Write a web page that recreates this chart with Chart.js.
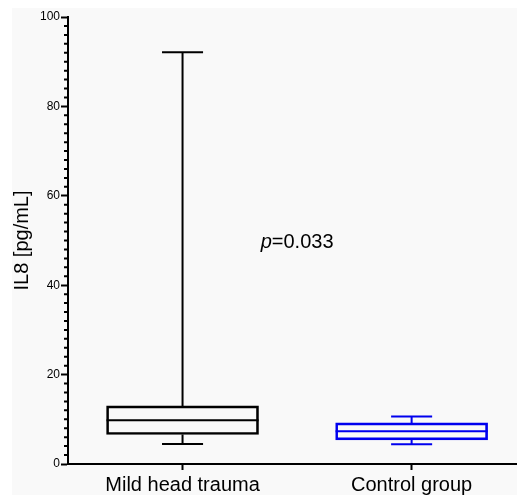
<!DOCTYPE html>
<html>
<head>
<meta charset="utf-8">
<script src="https://cdn.jsdelivr.net/npm/chart.js@4.4.1/dist/chart.umd.min.js"></script>
<style>
  html, body { margin: 0; padding: 0; background: #fff; overflow: hidden; }
  #wrap { position: relative; width: 517px; height: 495px; }
</style>
</head>
<body>
<div id="wrap"><canvas id="boxChart"></canvas></div>
<script>
// Box plot values
const categories = ['Mild head trauma', 'Control group'];
const groupX = [1, 2];
const mins = [4.5, 4.4];
const q1s = [6.6, 5.4];
const medians = [9.8, 7.3];
const q3s = [13.0, 9.2];
const maxs = [92.1, 10.6];
const colors = ['#000000', '#0000ee'];
const yTicks = [0, 20, 40, 60, 80, 100];
const pText = { x: 1.5, y: 49.5, label: '0.033' };

Chart.defaults.font.family = '"Liberation Sans", Arial, sans-serif';
Chart.defaults.color = '#000';

// light grey panel behind the plot
const panelBg = {
    id: 'panelBg',
    beforeDraw(chart) {
        const c = chart.ctx;
        c.save();
        c.fillStyle = '#ffffff';
        c.fillRect(0, 0, chart.width, chart.height);
        c.fillStyle = '#f9f9f9';
        c.fillRect(12, 8, chart.width - 12, chart.height - 8);
        c.restore();
    }
};

// whiskers, caps, medians, minor ticks and the p-value
const boxExtras = {
    id: 'boxExtras',
    afterDatasetsDraw(chart) {
        const c = chart.ctx;
        const x = chart.scales.x, y = chart.scales.y;
        const meta = chart.getDatasetMeta(0);
        c.save();
        c.lineWidth = 2;
        meta.data.forEach((bar, i) => {
            const cx = bar.x, half = bar.width / 2, cap = bar.width * 0.135;
            c.strokeStyle = colors[i];
            c.beginPath();
            // median
            c.moveTo(cx - half, y.getPixelForValue(medians[i]));
            c.lineTo(cx + half, y.getPixelForValue(medians[i]));
            // upper whisker + cap
            c.moveTo(cx, y.getPixelForValue(q3s[i]));
            c.lineTo(cx, y.getPixelForValue(maxs[i]));
            c.moveTo(cx - cap, y.getPixelForValue(maxs[i]));
            c.lineTo(cx + cap, y.getPixelForValue(maxs[i]));
            // lower whisker + cap
            c.moveTo(cx, y.getPixelForValue(q1s[i]));
            c.lineTo(cx, y.getPixelForValue(mins[i]));
            c.moveTo(cx - cap, y.getPixelForValue(mins[i]));
            c.lineTo(cx + cap, y.getPixelForValue(mins[i]));
            c.stroke();
        });

        // minor ticks every 2 units
        c.strokeStyle = '#000';
        c.beginPath();
        for (let v = y.min; v <= y.max; v += 2) {
            if (v % 20 === 0) continue;
            const py = y.getPixelForValue(v);
            c.moveTo(y.right - 4, py);
            c.lineTo(y.right, py);
        }
        c.stroke();

        // p-value annotation
        const px = x.getPixelForValue(pText.x), py = y.getPixelForValue(pText.y);
        c.fillStyle = '#000';
        c.textBaseline = 'middle';
        c.font = 'italic 20px "Liberation Sans", Arial, sans-serif';
        const pw = c.measureText('p').width;
        c.font = '20px "Liberation Sans", Arial, sans-serif';
        const rest = '=' + pText.label;
        const total = pw + c.measureText(rest).width;
        const left = px - total / 2;
        c.font = 'italic 20px "Liberation Sans", Arial, sans-serif';
        c.fillText('p', left, py);
        c.font = '20px "Liberation Sans", Arial, sans-serif';
        c.fillText(rest, left + pw, py);
        c.restore();
    }
};

const ctx = document.getElementById('boxChart').getContext('2d');
new Chart(ctx, {
    type: 'bar',
    data: {
        datasets: [{
            data: groupX.map((gx, i) => ({ x: gx, y: [q1s[i], q3s[i]] })),
            borderColor: colors,
            backgroundColor: 'rgba(0,0,0,0)',
            borderWidth: 2,
            borderSkipped: false,
            barThickness: 152
        }]
    },
    options: {
        responsive: true,
        maintainAspectRatio: false,
        animation: false,
        layout: { padding: { top: 17, left: 0, right: 0, bottom: 0 } },
        plugins: { legend: { display: false }, tooltip: { enabled: false } },
        scales: {
            x: {
                type: 'linear',
                min: 0.5,
                max: 2.46,
                offset: false,
                afterBuildTicks: (axis) => { axis.ticks = groupX.map(v => ({ value: v })); },
                afterFit: (axis) => { axis.height = 31; },
                ticks: {
                    font: { size: 20 },
                    padding: 3,
                    maxRotation: 0,
                    callback: (v) => categories[groupX.indexOf(v)]
                },
                grid: { offset: false, drawOnChartArea: false, tickLength: 6, tickWidth: 2, tickColor: '#000' },
                border: { color: '#000', width: 2 }
            },
            y: {
                min: 0,
                max: 100,
                afterBuildTicks: (axis) => { axis.ticks = yTicks.map(v => ({ value: v })); },
                afterFit: (axis) => { axis.width = 68; },
                ticks: { font: { size: 12 }, padding: 1 },
                grid: { drawOnChartArea: false, tickLength: 7, tickWidth: 2, tickColor: '#000' },
                border: { color: '#000', width: 2 },
                title: { display: true, text: 'IL8 [pg/mL]', font: { size: 20 }, padding: { top: 10, bottom: 0 } }
            }
        }
    },
    plugins: [panelBg, boxExtras]
});
</script>
</body>
</html>
